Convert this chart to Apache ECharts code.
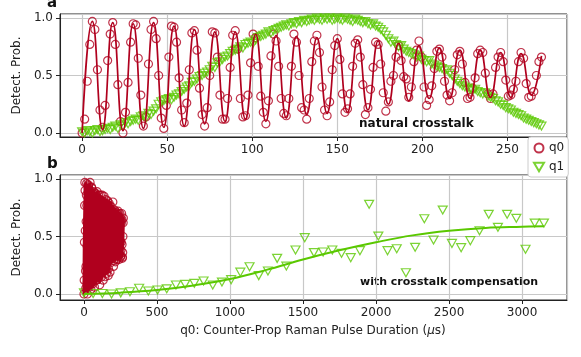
<!DOCTYPE html>
<html>
<head>
<meta charset="utf-8">
<script src="https://cdn.jsdelivr.net/npm/echarts@6/dist/echarts.min.js"></script>
<style>
  html, body { margin: 0; padding: 0; background: #fff; }
  .layer { position: absolute; left: 0; top: 0; width: 581px; height: 357px; }
</style>
</head>
<body>
<div class="layer" id="panelA"></div>
<div class="layer" id="panelB"></div>
<script>
// panel a: q0 and q1 sampled together every 1.5 us
const stepTop = 1.5
const q0Data = [
  0.00, 0.12, 0.45, 0.77, 0.97, 0.90, 0.55, 0.20,
  0.05, 0.24, 0.63, 0.86, 0.96, 0.77, 0.42, 0.10,
  0.00, 0.18, 0.44, 0.79, 0.95, 0.94, 0.65, 0.33,
  0.06, 0.14, 0.60, 0.90, 0.97, 0.82, 0.50, 0.13,
  0.04, 0.24, 0.66, 0.93, 0.92, 0.79, 0.48, 0.20,
  0.09, 0.26, 0.55, 0.87, 0.89, 0.72, 0.39, 0.16,
  0.06, 0.22, 0.50, 0.88, 0.87, 0.66, 0.33, 0.12,
  0.12, 0.30, 0.57, 0.85, 0.89, 0.73, 0.30, 0.14,
  0.15, 0.33, 0.61, 0.86, 0.83, 0.58, 0.32, 0.18,
  0.08, 0.28, 0.67, 0.86, 0.80, 0.58, 0.30, 0.17,
  0.15, 0.30, 0.58, 0.86, 0.79, 0.50, 0.22, 0.20,
  0.12, 0.30, 0.62, 0.80, 0.85, 0.70, 0.40, 0.20,
  0.15, 0.27, 0.55, 0.76, 0.82, 0.64, 0.34, 0.18,
  0.21, 0.34, 0.58, 0.78, 0.81, 0.66, 0.42, 0.16,
  0.22, 0.38, 0.57, 0.79, 0.77, 0.60, 0.35, 0.19,
  0.27, 0.45, 0.50, 0.66, 0.76, 0.63, 0.49, 0.47,
  0.31, 0.40, 0.62, 0.72, 0.80, 0.66, 0.40, 0.24,
  0.29, 0.41, 0.56, 0.71, 0.73, 0.66, 0.45, 0.33,
  0.28, 0.35, 0.55, 0.68, 0.71, 0.60, 0.44, 0.30,
  0.31, 0.39, 0.48, 0.69, 0.72, 0.70, 0.52, 0.34,
  0.30, 0.34, 0.57, 0.66, 0.70, 0.62, 0.46, 0.32,
  0.33, 0.38, 0.45, 0.62, 0.70, 0.65, 0.43, 0.31,
  0.32, 0.36, 0.50, 0.62, 0.66
]
// q0 fit curve, read at each trough / peak (every 6 us)
const fitStep = 6
const q0Fit = [
  0.00, 0.97, 0.03, 0.96, 0.02, 0.95, 0.04, 0.96, 0.05, 0.93,
  0.06, 0.90, 0.08, 0.88, 0.10, 0.88, 0.12, 0.86, 0.10, 0.85,
  0.13, 0.84, 0.16, 0.83, 0.17, 0.82, 0.18, 0.81, 0.20, 0.80,
  0.25, 0.78, 0.28, 0.76, 0.30, 0.74, 0.30, 0.72, 0.30, 0.72,
  0.31, 0.70, 0.31, 0.69, 0.33, 0.67
]
const q1Data = [
  0.01, 0.00, 0.02, 0.01, 0.00, 0.02, 0.03, 0.01, 0.02, 0.03,
  0.04, 0.03, 0.05, 0.06, 0.04, 0.07, 0.06, 0.09, 0.08, 0.10,
  0.11, 0.12, 0.11, 0.14, 0.15, 0.13, 0.17, 0.16, 0.19, 0.21,
  0.25, 0.27, 0.28, 0.29, 0.30, 0.29, 0.31, 0.33, 0.34, 0.36,
  0.38, 0.40, 0.41, 0.44, 0.45, 0.47, 0.49, 0.50, 0.52, 0.53,
  0.55, 0.58, 0.57, 0.61, 0.62, 0.64, 0.66, 0.67, 0.69, 0.71,
  0.72, 0.73, 0.75, 0.74, 0.77, 0.78, 0.79, 0.78, 0.81, 0.83,
  0.84, 0.85, 0.86, 0.88, 0.87, 0.89, 0.90, 0.91, 0.92, 0.93,
  0.94, 0.93, 0.95, 0.96, 0.95, 0.97, 0.96, 0.98, 0.97, 0.98,
  0.99, 0.98, 1.00, 0.99, 0.98, 1.00, 0.99, 1.00, 0.98, 0.99,
  1.00, 0.99, 0.98, 1.00, 0.99, 0.98, 0.97, 0.99, 0.98, 0.97,
  0.96, 0.97, 0.95, 0.94, 0.95, 0.93, 0.92, 0.90, 0.88, 0.85,
  0.82, 0.79, 0.80, 0.77, 0.75, 0.76, 0.73, 0.71, 0.70, 0.69,
  0.68, 0.66, 0.67, 0.64, 0.63, 0.62, 0.63, 0.60, 0.59, 0.58,
  0.57, 0.56, 0.54, 0.55, 0.52, 0.50, 0.47, 0.45, 0.43, 0.41,
  0.40, 0.39, 0.38, 0.37, 0.38, 0.36, 0.35, 0.34, 0.35, 0.32,
  0.31, 0.30, 0.28, 0.27, 0.25, 0.24, 0.22, 0.21, 0.20, 0.18,
  0.17, 0.16, 0.15, 0.13, 0.12, 0.11, 0.10, 0.09, 0.08, 0.07,
  0.06
]
// panel b: q1 sampled every 63 us (q0 drawn from the same arrays as panel a)
const stepBottom = 63
const q1Comp = [
  0.01, 0.005, 0.005, 0.00, 0.01, 0.02, 0.05, 0.026, 0.035, 0.045,
  0.078, 0.084, 0.093, 0.113, 0.078, 0.104, 0.125, 0.19, 0.237, 0.16,
  0.20, 0.31, 0.243, 0.383, 0.49, 0.36, 0.365, 0.383, 0.354, 0.316,
  0.377, 0.78, 0.504, 0.377, 0.394, 0.185, 0.406, 0.655, 0.47, 0.73,
  0.44, 0.403, 0.464, 0.55, 0.693, 0.58, 0.693, 0.658, 0.389, 0.617,
  0.617
]
const q1CompFitX = [0, 250, 500, 750, 1000, 1250, 1500, 1750, 2000, 2250, 2500, 2750, 3000, 3150]
const q1CompFit = [0.0, 0.012, 0.035, 0.075, 0.13, 0.21, 0.30, 0.38, 0.45, 0.51, 0.55, 0.575, 0.585, 0.59]

const red = '#B0001E'
const green = '#5AC800'
const font = 'DejaVu Sans'
const tri = 'path://M0,0 L20,0 L10,17 Z'

const pairs = (vals, step) => vals.map((v, i) => [i * step, v])

function xAxisOf (min, max) {
  return {
    type: 'value', min: min, max: max, position: 'bottom',
    axisLine: { onZero: false, lineStyle: { color: '#222', width: 1 } },
    axisTick: { inside: false, length: 4, lineStyle: { color: '#222' } },
    axisLabel: {
      show: true, showMinLabel: false, showMaxLabel: false, margin: 7,
      fontFamily: font, fontSize: 12, color: '#222',
      formatter: v => String(v)
    },
    splitLine: { show: true, lineStyle: { color: '#c8c8c8', width: 1.2 } }
  }
}
function yAxisOf (min, max) {
  return {
    type: 'value', min: min, max: max, splitNumber: 2, position: 'left',
    name: 'Detect. Prob.', nameLocation: 'middle', nameGap: 34,
    nameTextStyle: { fontFamily: font, fontSize: 12, color: '#222' },
    axisLine: { show: true, onZero: false, lineStyle: { color: '#222', width: 1 } },
    axisTick: { show: true, length: 4, lineStyle: { color: '#222' } },
    axisLabel: {
      showMinLabel: false, showMaxLabel: false, margin: 7,
      fontFamily: font, fontSize: 12, color: '#222',
      formatter: v => v.toFixed(1)
    },
    splitLine: { show: true, lineStyle: { color: '#c8c8c8', width: 1.2 } }
  }
}
const hollow = color => ({ color: 'rgba(0,0,0,0)', borderColor: color, borderWidth: 1.2 })

// panel a, on its own instance (bottom layer)
const chartA = echarts.init(document.getElementById('panelA'))
chartA.setOption({
  animation: false,
  grid: { left: 60, right: 14, top: 14, height: 123, show: true, borderColor: '#222', borderWidth: 1 },
  xAxis: xAxisOf(-13, 285),
  yAxis: yAxisOf(-0.035, 1.035),
  series: [
    {
      name: 'q0 fit', type: 'line', data: pairs(q0Fit, fitStep),
      smooth: 0.5, symbol: 'none', lineStyle: { color: red, width: 1.7 }
    },
    {
      name: 'q0', type: 'scatter', data: pairs(q0Data, stepTop),
      symbol: 'circle', symbolSize: 8, itemStyle: hollow(red)
    },
    {
      name: 'q1', type: 'scatter', data: pairs(q1Data, stepTop),
      symbol: tri, symbolSize: [9, 8], itemStyle: hollow(green)
    }
  ]
})

// panel b, legend and the free text, on a transparent instance above it
const chartB = echarts.init(document.getElementById('panelB'))
const xB = xAxisOf(-164, 3308)
chartB.setOption({
  animation: false,
  grid: { left: 60, right: 14, top: 175, height: 125, show: true, borderColor: '#222', borderWidth: 1 },
  xAxis: xB,
  yAxis: yAxisOf(-0.052, 1.035),
  legend: {
    orient: 'vertical', left: 528, top: 137,
    padding: [5, 4, 4, 5], itemGap: 7, itemWidth: 10, itemHeight: 9,
    backgroundColor: '#fff', borderColor: '#ccc', borderWidth: 1, borderRadius: 3,
    textStyle: { fontFamily: font, fontSize: 12, color: '#222' },
    data: [
      { name: 'q0', icon: 'circle' },
      { name: 'q1', icon: tri }
    ]
  },
  graphic: [
    { type: 'text', left: 47, top: -4, style: { text: 'a', font: 'bold 15px "DejaVu Sans"', fill: '#111' } },
    { type: 'text', left: 47, top: 157, style: { text: 'b', font: 'bold 15px "DejaVu Sans"', fill: '#111' } },
    { type: 'text', left: 359, top: 118, style: { text: 'natural crosstalk', font: 'bold 12px "DejaVu Sans"', fill: '#111' } },
    { type: 'text', left: 360, top: 277, style: { text: 'with crosstalk compensation', font: 'bold 11px "DejaVu Sans"', fill: '#111' } },
    {
      type: 'text', x: 313, y: 325,
      style: {
        text: '{n|q0: Counter-Prop Raman Pulse Duration (}{i|μ}{n|s)}',
        align: 'center', verticalAlign: 'top',
        rich: {
          n: { fontFamily: font, fontSize: 12, fill: '#222' },
          i: { fontFamily: font, fontSize: 12, fill: '#222', fontStyle: 'italic' }
        }
      }
    }
  ],
  series: [
    {
      name: 'q0 fit b', type: 'line', data: pairs(q0Fit, fitStep),
      smooth: 0.5, symbol: 'none', lineStyle: { color: red, width: 3 }
    },
    {
      name: 'q0', type: 'scatter', data: pairs(q0Data, stepTop),
      symbol: 'circle', symbolSize: 8, itemStyle: hollow(red)
    },
    {
      name: 'q1 fit b', type: 'line', data: q1CompFitX.map((x, i) => [x, q1CompFit[i]]),
      smooth: 0.4, symbol: 'none', lineStyle: { color: green, width: 2 }
    },
    {
      name: 'q1', type: 'scatter', data: pairs(q1Comp, stepBottom),
      symbol: tri, symbolSize: [9, 8], itemStyle: hollow(green)
    }
  ]
})
</script>
</body>
</html>
